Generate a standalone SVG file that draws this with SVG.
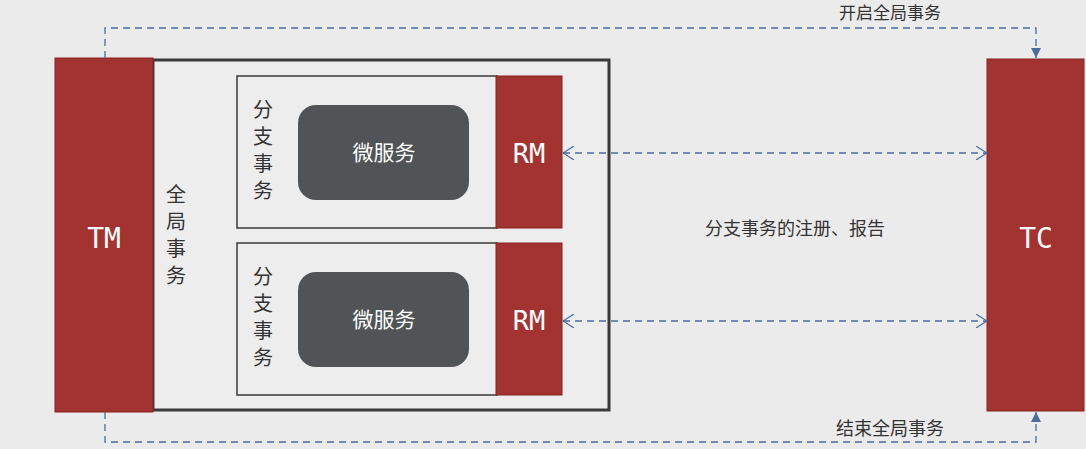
<svg xmlns="http://www.w3.org/2000/svg" width="1086" height="449" viewBox="0 0 1086 449">
<style>
.red{fill:#a33331;stroke:#8a2220;stroke-width:1}
.box{fill:none;stroke:#3a3a3a;stroke-width:1.5}
.ms{fill:#505456}
.wt{font-family:"DejaVu Sans Mono","Noto Sans CJK SC",monospace;fill:#ffffff}
.cn{font-family:"Noto Sans CJK SC",sans-serif;fill:#333333;font-size:18px}
.vt{font-family:"Noto Sans CJK SC",sans-serif;fill:#333333;font-size:20px}
.dash{fill:none;stroke:#4a6d9c;stroke-width:1.3;stroke-dasharray:7 5}
</style>
<defs>
<marker id="tri" viewBox="0 0 10 10" refX="10" refY="5" markerWidth="10" markerHeight="10" markerUnits="userSpaceOnUse" orient="auto">
<path d="M0,0 L10,5 L0,10 Z" fill="#4a6d9c"/>
</marker>
<marker id="chev" viewBox="0 0 12 14" refX="11" refY="7" markerWidth="12" markerHeight="14" markerUnits="userSpaceOnUse" orient="auto-start-reverse">
<path d="M0,0 L11,7 L0,14" fill="none" stroke="#4a6d9c" stroke-width="1.2"/>
</marker>
</defs>
<rect width="1086" height="449" fill="#ebebeb"/>
<g id="global">
<rect x="153" y="60" width="456" height="350" fill="#ededed" stroke="#3a3a3a" stroke-width="3"/>
<text class="vt" x="176" y="202" text-anchor="middle">全</text>
<text class="vt" x="176" y="229" text-anchor="middle">局</text>
<text class="vt" x="176" y="256" text-anchor="middle">事</text>
<text class="vt" x="176" y="283" text-anchor="middle">务</text>
</g>
<g id="TM">
<rect class="red" x="55" y="58" width="98" height="354"/>
<text class="wt" x="104" y="248" font-size="28" text-anchor="middle">TM</text>
</g>
<g id="TC">
<rect class="red" x="987" y="59" width="97" height="352"/>
<text class="wt" x="1036" y="248" font-size="28" text-anchor="middle">TC</text>
</g>
<g id="branch1">
<rect class="box" x="237" y="76" width="260" height="152"/>
<text class="vt" x="263" y="117" text-anchor="middle">分</text>
<text class="vt" x="263" y="144" text-anchor="middle">支</text>
<text class="vt" x="263" y="171" text-anchor="middle">事</text>
<text class="vt" x="263" y="198" text-anchor="middle">务</text>
<rect class="ms" x="298" y="105" width="171" height="95" rx="18"/>
<text x="384" y="160" font-size="21" fill="#ffffff" text-anchor="middle" font-family="Noto Sans CJK SC,sans-serif">微服务</text>
</g>
<g id="RM1">
<rect class="red" x="496" y="76" width="66" height="152"/>
<text class="wt" x="529" y="163" font-size="27" text-anchor="middle">RM</text>
</g>
<g id="branch2">
<rect class="box" x="237" y="243" width="260" height="152"/>
<text class="vt" x="263" y="284" text-anchor="middle">分</text>
<text class="vt" x="263" y="311" text-anchor="middle">支</text>
<text class="vt" x="263" y="338" text-anchor="middle">事</text>
<text class="vt" x="263" y="365" text-anchor="middle">务</text>
<rect class="ms" x="298" y="272" width="171" height="95" rx="18"/>
<text x="384" y="327" font-size="21" fill="#ffffff" text-anchor="middle" font-family="Noto Sans CJK SC,sans-serif">微服务</text>
</g>
<g id="RM2">
<rect class="red" x="496" y="243" width="66" height="152"/>
<text class="wt" x="529" y="330" font-size="27" text-anchor="middle">RM</text>
</g>
<g id="connectors">
<path class="dash" d="M105,58 V28 H1036 V58" marker-end="url(#tri)"/>
<path class="dash" d="M105,412 V442 H1036 V412" marker-end="url(#tri)"/>
<line class="dash" x1="563" y1="153" x2="987" y2="153" marker-start="url(#chev)" marker-end="url(#chev)"/>
<line class="dash" x1="563" y1="321" x2="987" y2="321" marker-start="url(#chev)" marker-end="url(#chev)"/>
<text class="cn" x="890" y="19" font-size="17" style="font-size:17px" text-anchor="middle">开启全局事务</text>
<text class="cn" x="890" y="435" text-anchor="middle">结束全局事务</text>
<text class="cn" x="795" y="235" text-anchor="middle">分支事务的注册、报告</text>
</g>
</svg>
